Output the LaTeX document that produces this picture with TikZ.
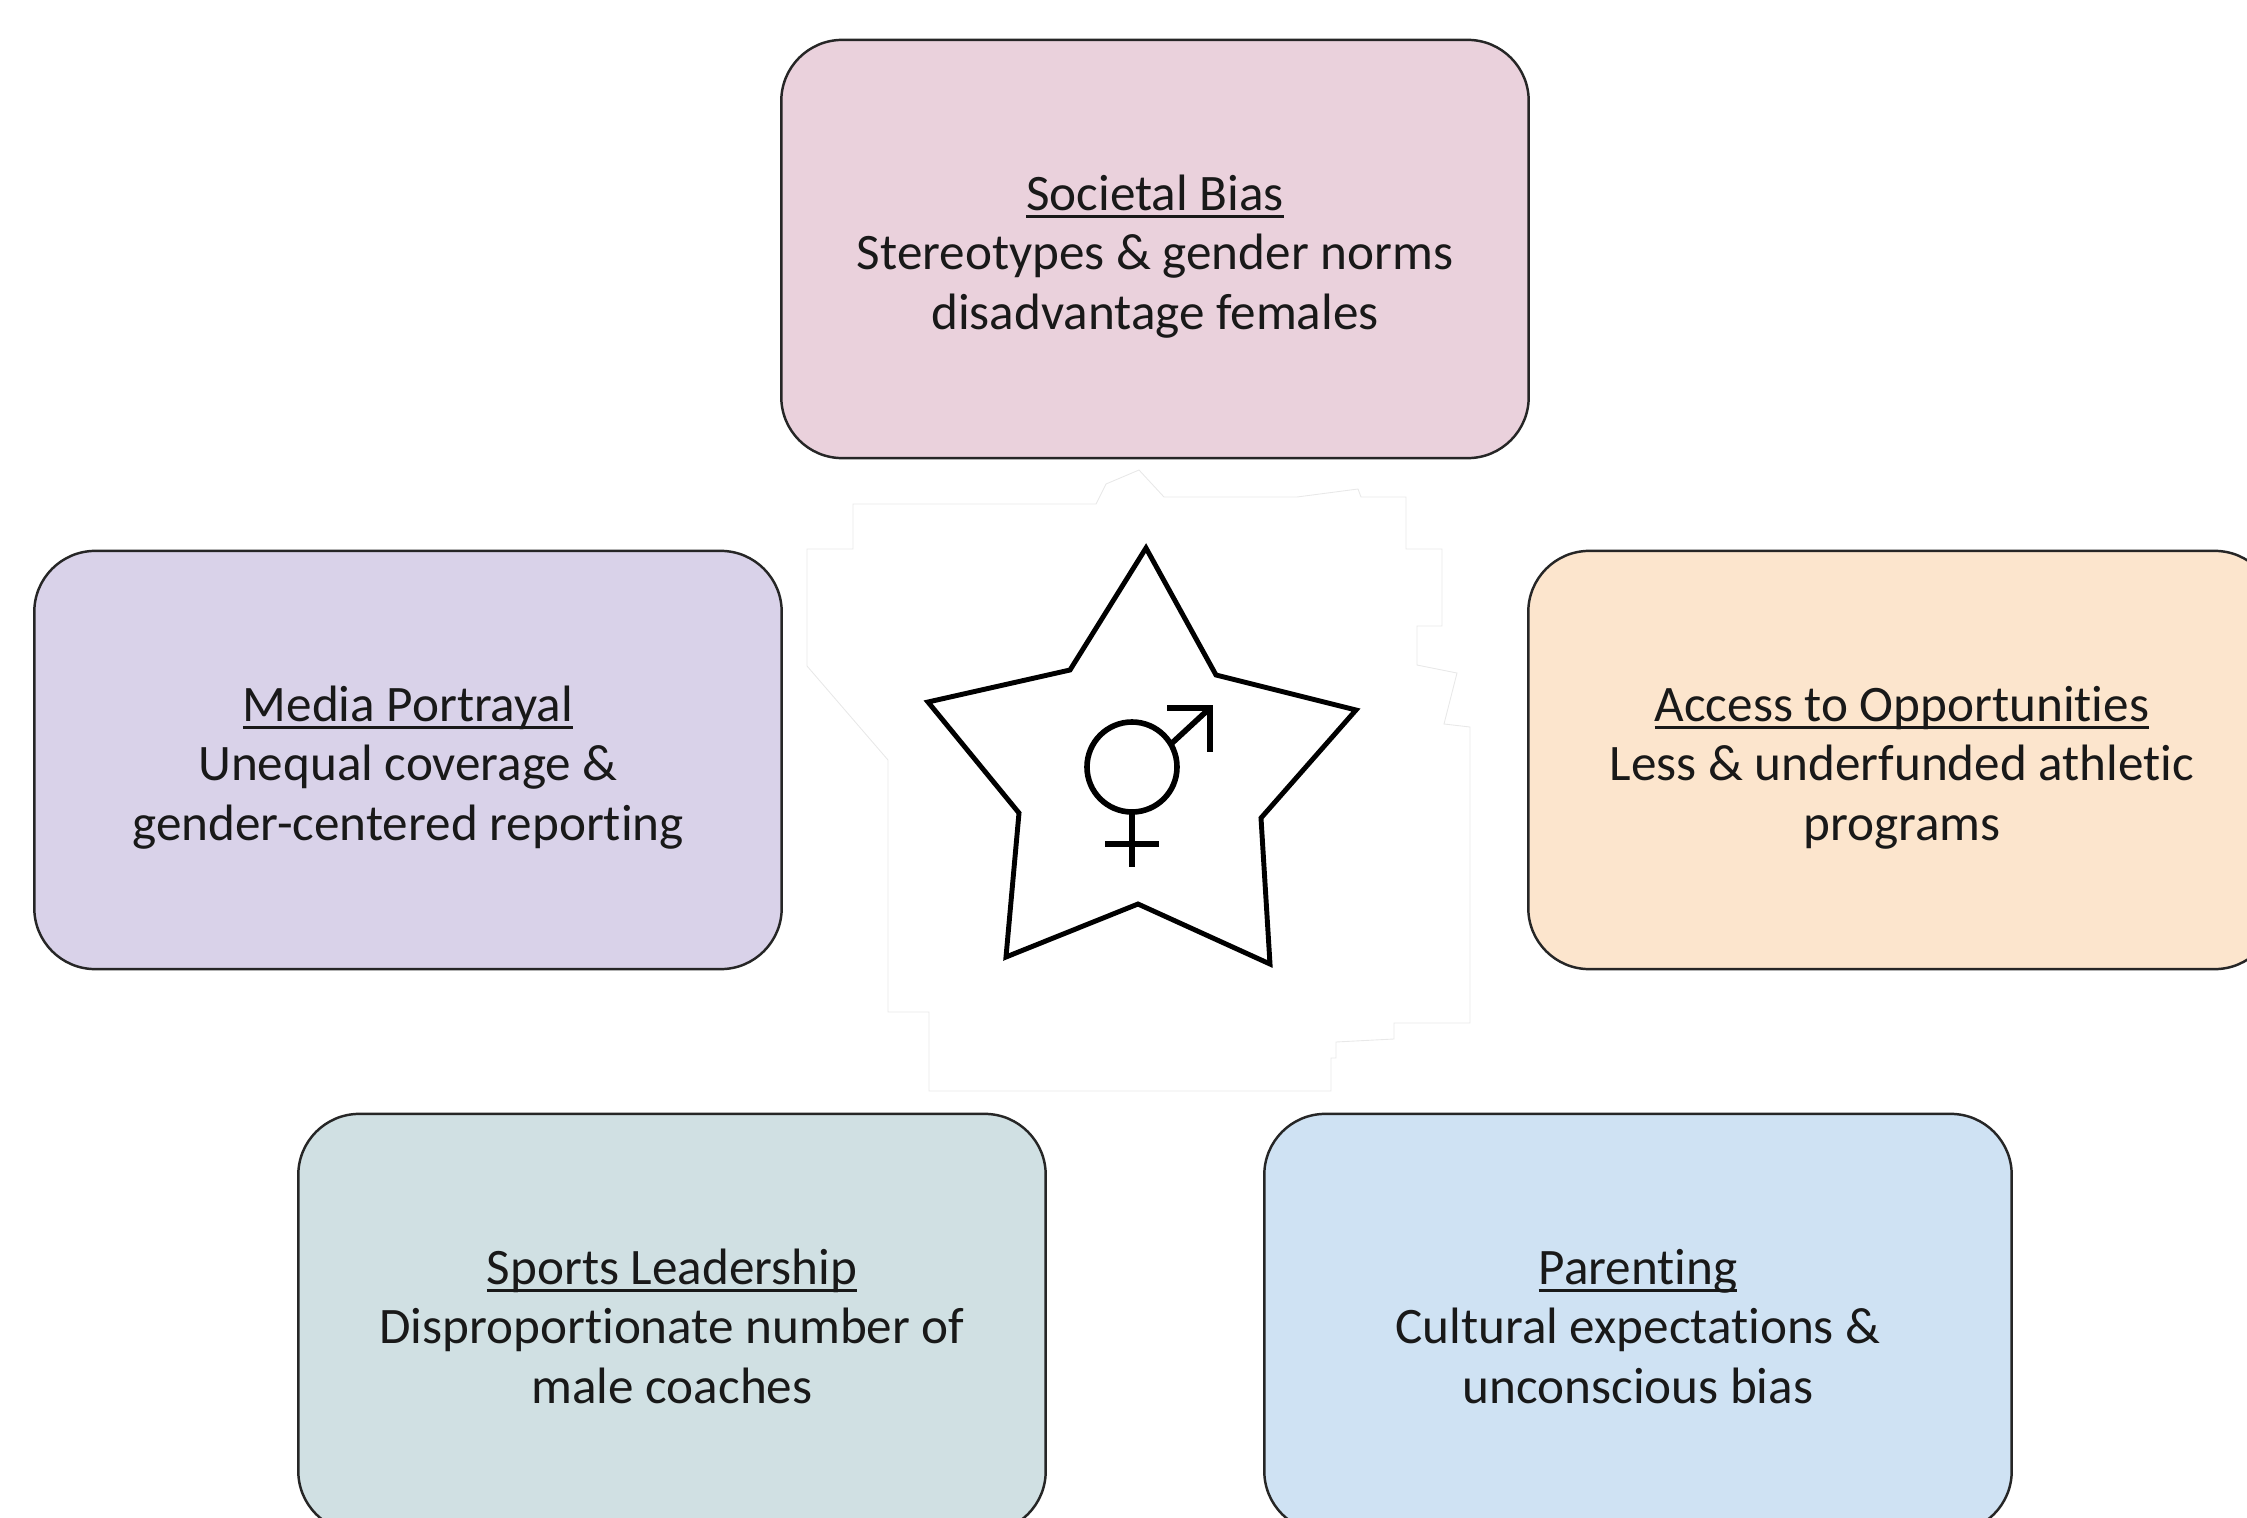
\documentclass[tikz,border=0pt]{standalone}
\usepackage{fontspec}
\setmainfont[Ligatures=NoCommon]{Carlito}
\newsavebox{\headbox}
\def\headline#1{\sbox{\headbox}{#1}\leavevmode\rule{0pt}{16.7pt}\usebox{\headbox}\llap{\rule[-2.2pt]{\wd\headbox}{0.9pt}}}
\def\lastline#1{#1\rule[-4.8pt]{0pt}{4.8pt}}
\tikzset{
	factorbox/.style={draw=black!85, line width=0.7pt, rounded corners=0.61cm, minimum width=7.47cm, minimum height=4.18cm, align=center, text=black!90, font=\fontsize{14.55}{17}\selectfont},
	starline/.style={draw=black, line width=1.4pt, line join=miter},
	signline/.style={draw=black, line width=1.6pt},
}

\begin{document}
\begin{tikzpicture}[x=0.01cm, y=-0.01cm]
	%%%%% START %%%%%
	\path[use as bounding box] (0, 0) rectangle (2247, 1518);
	\clip (0, 0) rectangle (2247, 1518);

	% cut-out edge behind the star
	\draw[line width=0.25pt, color=black!9] (853, 504) -- (1096, 504) -- (1106, 484) -- (1139, 470) -- (1164, 497) -- (1297, 497) -- (1358, 489) -- (1361, 497) -- (1406, 497) -- (1406, 549) -- (1442, 549) -- (1442, 626) -- (1417, 626) -- (1417, 665) -- (1457, 673) -- (1444, 724) -- (1470, 727) -- (1470, 1023) -- (1394, 1023) -- (1394, 1039) -- (1336, 1042) -- (1336, 1058) -- (1331, 1058) -- (1331, 1091) -- (929, 1091) -- (929, 1012) -- (888, 1012) -- (888, 760) -- (807, 666) -- (807, 549) -- (853, 549) -- cycle;

	\node[factorbox, fill={rgb,255:red,234;green,209;blue,220}] (societal) at (1155, 249) {\headline{Societal Bias}\\Stereotypes \& gender norms\\\lastline{disadvantage females}};
	\node[factorbox, fill={rgb,255:red,217;green,210;blue,233}] (media) at (408, 760) {\headline{Media Portrayal}\\Unequal coverage \&\\\lastline{gender-centered reporting}};
	\node[factorbox, fill={rgb,255:red,252;green,229;blue,205}] (access) at (1902, 760) {\headline{Access to Opportunities}\\Less \& underfunded athletic\\\lastline{programs}};
	\node[factorbox, fill={rgb,255:red,208;green,224;blue,227}] (leadership) at (672, 1323) {\headline{Sports Leadership}\\Disproportionate number of\\\lastline{male coaches}};
	\node[factorbox, fill={rgb,255:red,207;green,226;blue,243}] (parenting) at (1638, 1323) {\headline{Parenting}\\Cultural expectations \&\\\lastline{unconscious bias}};

	% star
	\draw[starline] (1146, 548) -- (1070, 670) -- (928, 702) -- (1019, 813) -- (1006, 957) -- (1138, 904) -- (1270, 964) -- (1261, 818) -- (1356, 710) -- (1216, 675) -- cycle;

	% sign
	\draw[signline] (1132, 767) circle (45);
	\draw[signline] (1171, 744) -- (1210, 708);
	\draw[signline, line join=miter] (1167, 708) -- (1210, 708) -- (1210, 752);
	\draw[signline] (1132, 812) -- (1132, 867);
	\draw[signline] (1105, 844) -- (1159, 844);
	%%%%% END %%%%%
\end{tikzpicture}
\end{document}
